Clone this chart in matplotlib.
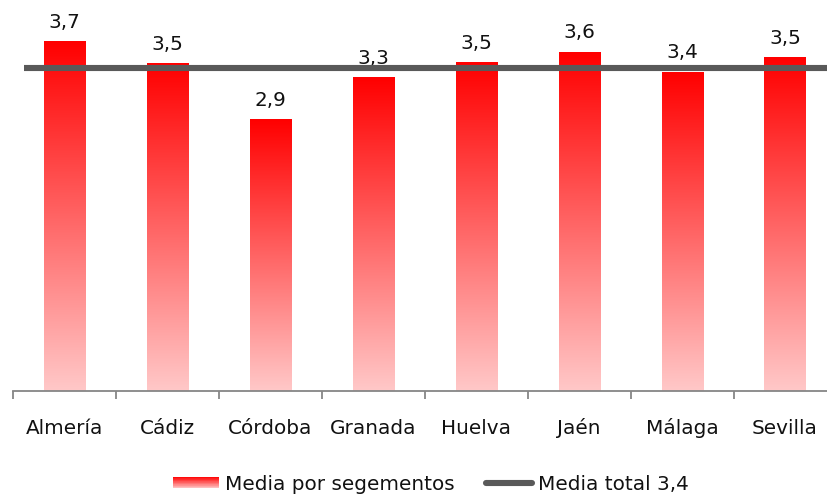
import numpy as np
import matplotlib
matplotlib.use("Agg")
import matplotlib.pyplot as plt
from matplotlib.colors import LinearSegmentedColormap
from matplotlib.legend_handler import HandlerBase
from matplotlib.patches import Rectangle
from matplotlib.lines import Line2D

# ---- data ----
provincias = ["Almería", "Cádiz", "Córdoba", "Granada", "Huelva", "Jaén", "Málaga", "Sevilla"]
media_segmentos = [3.68, 3.45, 2.86, 3.30, 3.46, 3.57, 3.36, 3.51]
media_total = 3.4

RED_TOP = "#FF0000"
RED_BOTTOM = "#FFC8C8"
LINE_GREY = "#595959"
TEXT = "#111111"
grad_cmap = LinearSegmentedColormap.from_list("grad", [RED_BOTTOM, RED_TOP])


class GradientHandler(HandlerBase):
    # legend swatch made from thin stacked strips
    def create_artists(self, legend, orig_handle, xdescent, ydescent,
                       width, height, fontsize, trans):
        n = 20
        h = height * 0.85
        y0 = -ydescent + (height - h) / 2
        arts = []
        for i in range(n):
            r = Rectangle((-xdescent, y0 + i * h / n), width, h / n + 0.05,
                          facecolor=grad_cmap(i / (n - 1)), edgecolor="none",
                          transform=trans)
            arts.append(r)
        return arts


plt.rcParams["font.family"] = "DejaVu Sans"
fig = plt.figure(figsize=(8.27, 4.99), dpi=100)
ax = fig.add_axes([13 / 827, 108 / 499, 823.5 / 827, 391 / 499])

x = np.arange(len(provincias))
bars = ax.bar(x, media_segmentos, width=0.4, color="none", edgecolor="none", zorder=2)

gradient = np.linspace(1, 0, 256).reshape(-1, 1)
for b in bars:
    x0, w, h = b.get_x(), b.get_width(), b.get_height()
    ax.imshow(gradient, extent=[x0, x0 + w, 0, h], aspect="auto",
              cmap=grad_cmap, vmin=0, vmax=1, zorder=2, interpolation="bilinear")
    ax.annotate(f"{h:.1f}".replace(".", ","), (x0 + w / 2, h),
                xytext=(0, 7), textcoords="offset points",
                ha="center", va="bottom", fontsize=14.4, color=TEXT)

ax.hlines(media_total, -0.39, 7.6, color=LINE_GREY, linewidth=4.4, zorder=3)

ax.set_xlim(-0.5, len(provincias) - 0.5)
ax.set_ylim(0, 4.12)

for s in ["top", "right", "left"]:
    ax.spines[s].set_visible(False)
ax.spines["bottom"].set_color("#868686")
ax.spines["bottom"].set_linewidth(1.3)
ax.set_yticks([])

ax.set_xticks(x)
ax.set_xticklabels(provincias, fontsize=14.4, color=TEXT)
ax.tick_params(axis="x", which="major", length=0, pad=31)
for lbl in ax.get_xticklabels():
    lbl.set_va("baseline")
ax.set_xticks(np.arange(-0.5, len(provincias)), minor=True)
ax.tick_params(axis="x", which="minor", length=6, width=1.3, color="#868686")

handles = [Rectangle((0, 0), 1, 1), Line2D([], [], color=LINE_GREY, linewidth=4.4, solid_capstyle="round")]
fig.legend(handles, ["Media por segementos", f"Media total {media_total:.1f}".replace(".", ",")],
           handler_map={Rectangle: GradientHandler()},
           loc="center", bbox_to_anchor=(0.521, 0.030), ncol=2, frameon=False,
           fontsize=14.4, handlelength=2.3, handletextpad=0.3, columnspacing=1.55,
           labelcolor=TEXT)

fig.savefig("out.png", dpi=100)
